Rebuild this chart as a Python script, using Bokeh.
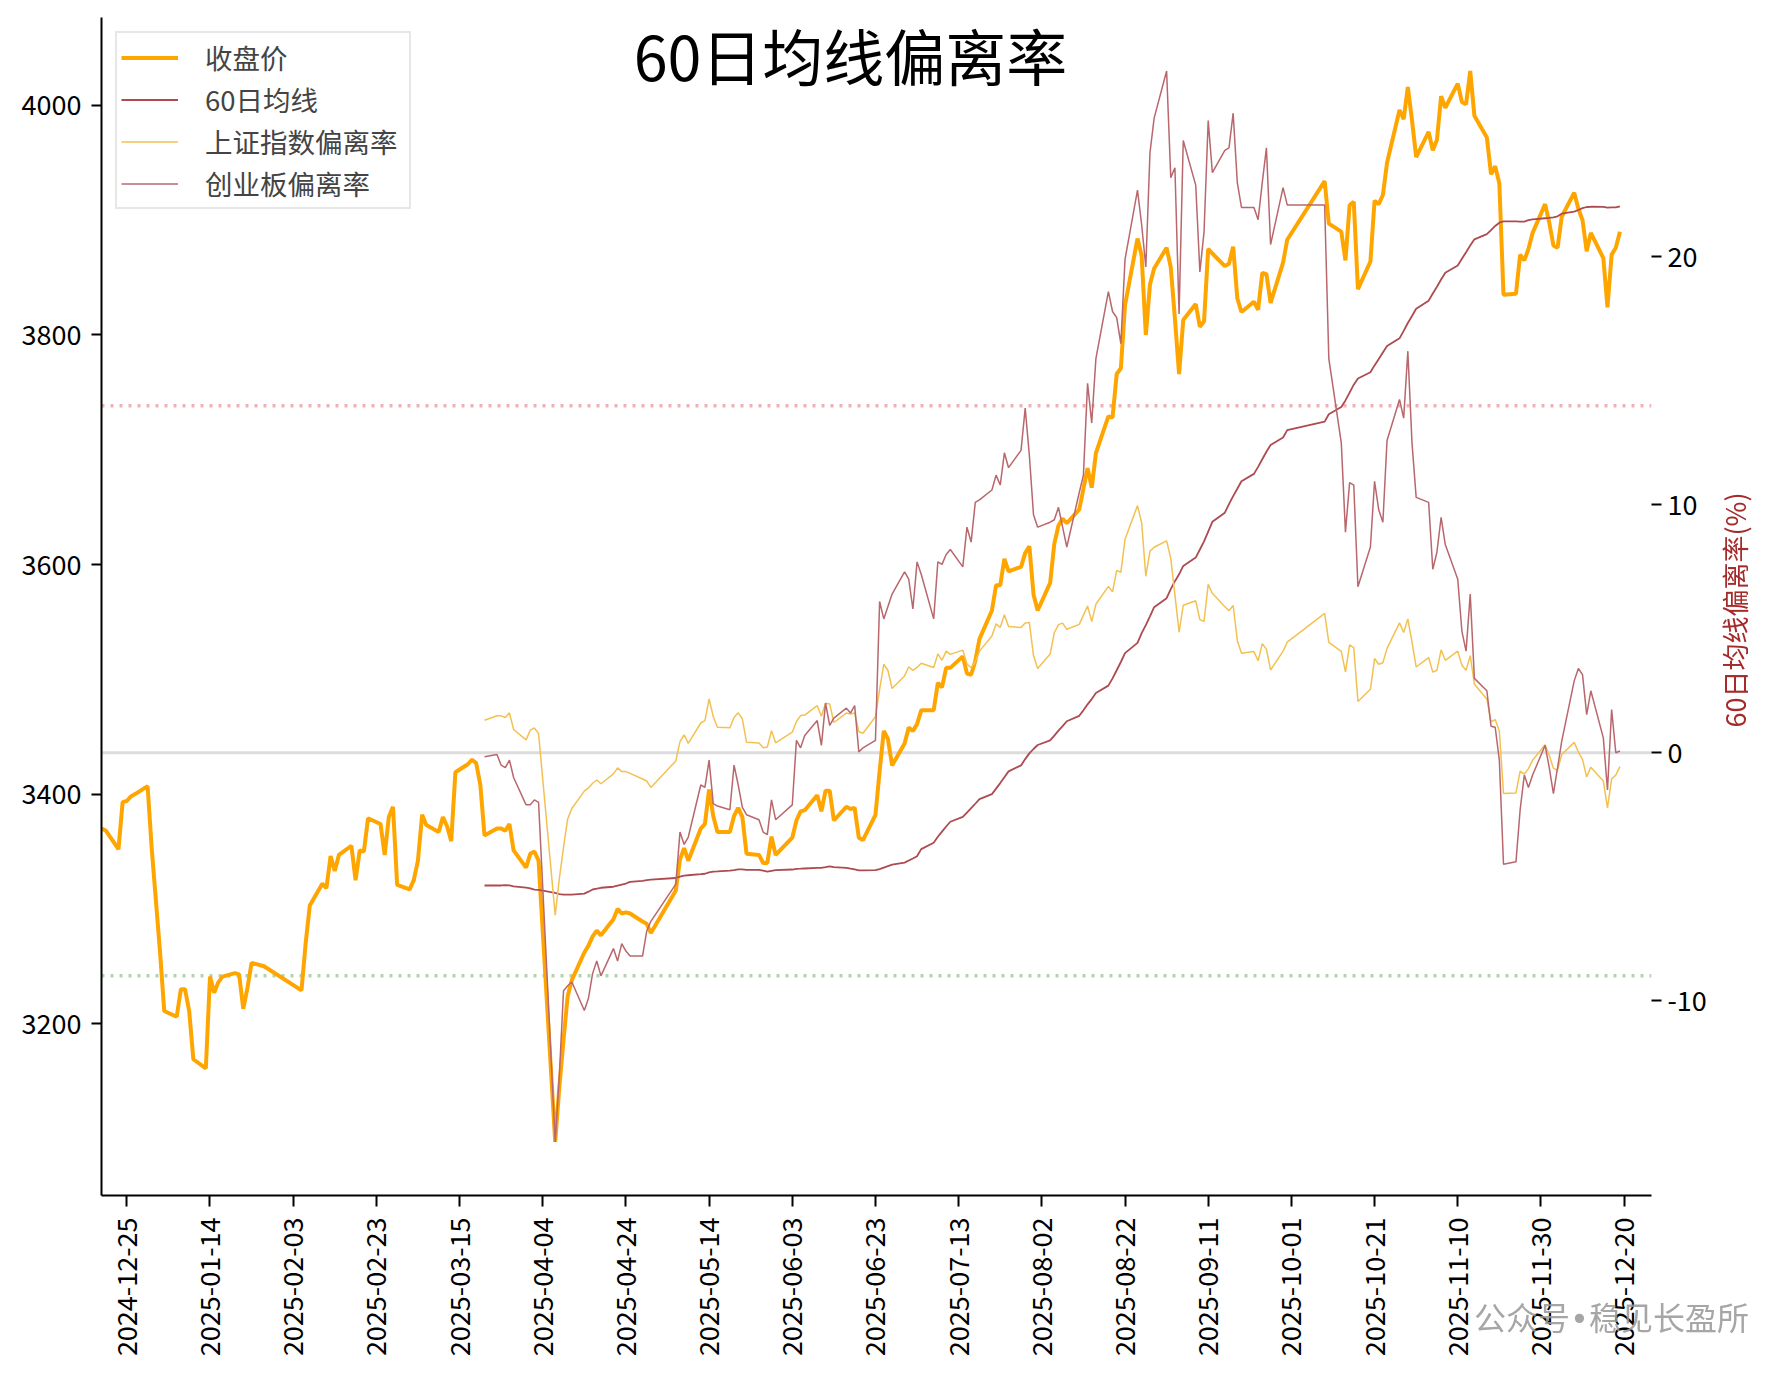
import math
from datetime import datetime
from bokeh.plotting import figure
from bokeh.layouts import column
from bokeh.models import (Range1d, LinearAxis, FixedTicker, DatetimeTickFormatter,
                          Span, Label, Legend, LegendItem, Div)
from bokeh.embed import file_html
from bokeh.resources import INLINE

FONT = "Noto Sans CJK SC"

# ---------------- data ----------------
trade_days = {
    (2024, 12): [19, 20, 23, 24, 25, 26, 27, 30, 31],
    (2025, 1): [2, 3, 6, 7, 8, 9, 10, 13, 14, 15, 16, 17, 20, 21, 22, 23, 24, 27],
    (2025, 2): [5, 6, 7, 10, 11, 12, 13, 14, 17, 18, 19, 20, 21, 24, 25, 26, 27, 28],
    (2025, 3): [3, 4, 5, 6, 7, 10, 11, 12, 13, 14, 17, 18, 19, 20, 21, 24, 25, 26, 27, 28, 31],
    (2025, 4): [1, 2, 3, 7, 8, 9, 10, 11, 14, 15, 16, 17, 18, 21, 22, 23, 24, 25, 28, 29, 30],
    (2025, 5): [6, 7, 8, 9, 12, 13, 14, 15, 16, 19, 20, 21, 22, 23, 26, 27, 28, 29, 30],
    (2025, 6): [3, 4, 5, 6, 9, 10, 11, 12, 13, 16, 17, 18, 19, 20, 23, 24, 25, 26, 27, 30],
    (2025, 7): [1, 2, 3, 4, 7, 8, 9, 10, 11, 14, 15, 16, 17, 18, 21, 22, 23, 24, 25, 28, 29, 30, 31],
    (2025, 8): [1, 4, 5, 6, 7, 8, 11, 12, 13, 14, 15, 18, 19, 20, 21, 22, 25, 26, 27, 28, 29],
    (2025, 9): [1, 2, 3, 4, 5, 8, 9, 10, 11, 12, 15, 16, 17, 18, 19, 22, 23, 24, 25, 26, 29, 30],
    (2025, 10): [9, 10, 13, 14, 15, 16, 17, 20, 21, 22, 23, 24, 27, 28, 29, 30, 31],
    (2025, 11): [3, 4, 5, 6, 7, 10, 11, 12, 13, 14, 17, 18, 19, 20, 21, 24, 25, 26, 27, 28],
    (2025, 12): [1, 2, 3, 4, 5, 8, 9, 10, 11, 12, 15, 16, 17, 18, 19],
}

close = [
    3370, 3368, 3352, 3393, 3394, 3398, 3400, 3407, 3352,
    3262, 3211, 3206, 3230, 3230, 3211, 3169, 3161, 3241, 3227, 3236, 3241, 3244, 3243, 3213, 3231, 3253, 3250,
    3229, 3270, 3303, 3322, 3318, 3346, 3333, 3347, 3355, 3325, 3351, 3350, 3379, 3374, 3347, 3380, 3389, 3321,
    3317, 3325, 3342, 3382, 3373, 3367, 3380, 3372, 3359, 3419, 3426, 3430, 3427, 3408, 3364, 3370, 3370, 3368, 3374, 3351, 3336,
    3348, 3350, 3342, 3097, 3145, 3186, 3224, 3238, 3262, 3268, 3276, 3281, 3277, 3291, 3300, 3296, 3297, 3296, 3289, 3287, 3279,
    3316, 3343, 3353, 3342, 3370, 3374, 3404, 3381, 3367, 3367, 3381, 3388, 3380, 3348, 3347, 3340, 3340, 3363, 3347,
    3362, 3377, 3385, 3386, 3399, 3385, 3403, 3403, 3377, 3389, 3387, 3388, 3362, 3360, 3382, 3420, 3455, 3448, 3425, 3444,
    3458, 3455, 3461, 3473, 3473, 3497, 3493, 3510, 3510, 3520, 3505, 3504, 3516, 3535, 3560, 3582, 3582, 3605, 3594, 3598, 3610, 3616, 3574,
    3560, 3584, 3618, 3634, 3640, 3636, 3648, 3666, 3684, 3667, 3697, 3729, 3728, 3766, 3771, 3826, 3884, 3869, 3800, 3844, 3858,
    3876, 3859, 3814, 3766, 3813, 3827, 3807, 3812, 3875, 3871, 3860, 3862, 3877, 3832, 3820, 3829, 3822, 3854, 3853, 3828, 3863, 3883,
    3934, 3897, 3890, 3865, 3913, 3916, 3840, 3864, 3917, 3914, 3922, 3950, 3996, 3988, 4016, 3987, 3955,
    3977, 3961, 3970, 4008, 3998, 4019, 4003, 4001, 4030, 3991, 3972, 3940, 3947, 3932, 3835, 3836, 3870, 3865, 3875, 3889,
    3914, 3898, 3878, 3876, 3903, 3924, 3910, 3900, 3873, 3889, 3867, 3824, 3870, 3876, 3890,
]

# series below start on 2025-03-21
ma60 = [
    3320.4, 3320.4, 3320.4, 3320.7, 3320.4, 3319.7, 3318.6,
    3317.8, 3316.8, 3316.6, 3313.9, 3312.8, 3312.5, 3312.4, 3312.5, 3313.3, 3315.0, 3316.9, 3317.6, 3318.4, 3319.3, 3320.3, 3321.2, 3322.1, 3323.5, 3324.4, 3325.0, 3325.5,
    3326.9, 3328.1, 3329.0, 3329.3, 3330.2, 3330.6, 3331.8, 3332.4, 3332.6, 3333.3, 3333.8, 3334.4, 3334.4, 3334.0, 3334.0, 3333.3, 3332.5, 3333.2, 3333.7,
    3334.3, 3334.9, 3335.0, 3335.2, 3335.7, 3335.8, 3336.3, 3337.1, 3336.4, 3335.7, 3335.0, 3334.4, 3333.6, 3333.5, 3333.7, 3334.6, 3336.0, 3337.3, 3338.5, 3340.3,
    3342.1, 3343.9, 3345.9, 3352.1, 3357.6, 3362.8, 3367.3, 3371.8, 3375.9, 3380.1, 3383.9, 3387.7, 3391.6, 3395.7, 3400.0, 3404.8, 3409.6, 3414.7, 3419.8, 3425.0, 3430.5, 3435.5, 3439.3,
    3442.8, 3446.8, 3451.0, 3455.3, 3459.2, 3463.5, 3468.2, 3473.1, 3478.2, 3482.8, 3488.1, 3494.5, 3500.8, 3507.9, 3515.1, 3522.8, 3531.8, 3540.2, 3547.3, 3554.9, 3562.8,
    3570.7, 3578.6, 3585.5, 3591.5, 3598.8, 3606.1, 3613.1, 3620.2, 3628.7, 3637.2, 3645.2, 3652.6, 3659.6, 3666.0, 3672.6, 3679.0, 3685.1, 3691.7, 3698.3, 3704.2, 3710.7, 3717.1,
    3724.5, 3730.9, 3737.2, 3743.0, 3749.8, 3756.7, 3762.1, 3767.5, 3773.5, 3779.0, 3784.7, 3790.4, 3797.1, 3803.6, 3810.4, 3816.6, 3822.9,
    3829.9, 3836.2, 3842.0, 3848.3, 3854.2, 3860.6, 3866.5, 3872.1, 3877.9, 3883.3, 3887.9, 3891.4, 3895.0, 3897.8, 3898.9, 3899.0, 3898.8, 3898.7, 3900.0, 3900.7,
    3901.7, 3902.0, 3902.4, 3903.4, 3905.7, 3907.5, 3908.9, 3910.5, 3911.5, 3911.7, 3911.6, 3911.0, 3911.2, 3911.2, 3912.1,
]

sse_dev = [
    1.31, 1.49, 1.49, 1.42, 1.61, 0.94, 0.52,
    0.91, 1.00, 0.77, -6.55, -5.07, -3.82, -2.67, -2.25, -1.55, -1.42, -1.23, -1.10, -1.25, -0.85, -0.61, -0.76, -0.76, -0.83, -1.06, -1.14, -1.40,
    -0.33, 0.45, 0.72, 0.38, 1.20, 1.30, 2.17, 1.46, 1.03, 1.01, 1.42, 1.61, 1.37, 0.42, 0.39, 0.20, 0.23, 0.89, 0.40,
    0.83, 1.26, 1.50, 1.52, 1.90, 1.47, 2.00, 1.97, 1.22, 1.60, 1.56, 1.61, 0.85, 0.79, 1.45, 2.56, 3.57, 3.32, 2.59, 3.10,
    3.47, 3.32, 3.44, 3.61, 3.44, 3.99, 3.73, 4.10, 3.97, 4.14, 3.58, 3.43, 3.67, 4.10, 4.71, 5.20, 5.06, 5.57, 5.09, 5.05, 5.23, 5.25, 3.92,
    3.40, 3.98, 4.84, 5.17, 5.23, 4.98, 5.18, 5.55, 5.92, 5.29, 5.99, 6.71, 6.49, 7.36, 7.28, 8.61, 9.97, 9.29, 7.12, 8.13, 8.29,
    8.55, 7.84, 6.37, 4.86, 5.95, 6.13, 5.37, 5.30, 6.79, 6.43, 5.89, 5.73, 5.94, 4.53, 4.01, 4.08, 3.71, 4.40, 4.18, 3.34, 4.10, 4.46,
    5.62, 4.45, 4.09, 3.26, 4.35, 4.24, 2.07, 2.56, 3.80, 3.57, 3.63, 4.21, 5.24, 4.85, 5.40, 4.46, 3.46,
    3.84, 3.25, 3.33, 4.15, 3.73, 4.10, 3.53, 3.33, 3.92, 2.77, 2.16, 1.25, 1.34, 0.88, -1.64, -1.62, -0.74, -0.86, -0.64, -0.30,
    0.32, -0.10, -0.63, -0.70, -0.07, 0.42, 0.03, -0.27, -0.98, -0.58, -1.14, -2.22, -1.05, -0.90, -0.56,
]

cyb_dev = [
    -0.16, -0.07, -0.5, -0.6, -0.3, -1.0, -2.1,
    -2.1, -1.9, -2.0, -15.7, -13.0, -9.6, -9.4, -9.25, -10.4, -9.9, -8.9, -8.4, -9.0, -7.9, -8.4, -7.7, -8.0, -8.2, -8.2, -7.2, -6.8,
    -5.3, -3.2, -3.7, -3.4, -1.3, -1.4, -0.3, -2.05, -2.15, -2.3, -0.5, -1.3, -2.2, -2.5, -2.7, -3.2, -3.3, -1.9, -2.7,
    -2.1, 0.5, 0.2, 0.7, 1.3, 0.3, 2.0, 1.1, 1.4, 1.8, 1.6, 1.9, 0.03, 0.2, 0.5, 6.1, 5.4, 5.9, 6.4, 7.3,
    7.0, 5.8, 7.7, 7.2, 5.4, 7.7, 7.6, 8.0, 8.2, 7.5, 9.1, 8.5, 10.1, 10.2, 10.6, 11.2, 10.8, 12.1, 11.5, 12.2, 13.9, 12.0, 9.6,
    9.1, 9.3, 9.4, 9.9, 9.1, 8.3, 10.5, 11.2, 14.9, 13.3, 15.9, 18.6, 17.8, 17.55, 16.5, 19.9, 22.7, 21.3, 19.6, 24.2, 25.6,
    27.5, 23.2, 23.6, 17.7, 24.7, 22.9, 19.4, 21.0, 25.5, 23.4, 24.3, 24.4, 25.8, 23.0, 22.0, 22.0, 21.5, 23.0, 24.4, 20.5, 22.8, 22.1,
    22.1, 15.9, 12.5, 8.9, 10.9, 10.8, 6.7, 8.3, 10.95, 9.8, 9.3, 12.6, 14.25, 13.5, 16.2, 12.5, 10.3,
    10.1, 7.4, 8.1, 9.5, 8.4, 7.0, 4.9, 4.1, 6.4, 3.0, 2.5, 1.07, 1.03, -0.3, -4.5, -4.4, -2.3, -0.9, -1.4, -0.9,
    0.3, -0.6, -1.65, -0.6, 0.47, 2.9, 3.4, 3.15, 1.54, 2.5, 0.6, -1.5, 1.74, 0.0, 0.07,
]

x_tick_labels = ["2024-12-25", "2025-01-14", "2025-02-03", "2025-02-23", "2025-03-15",
                 "2025-04-04", "2025-04-24", "2025-05-14", "2025-06-03", "2025-06-23",
                 "2025-07-13", "2025-08-02", "2025-08-22", "2025-09-11", "2025-10-01",
                 "2025-10-21", "2025-11-10", "2025-11-30", "2025-12-20"]
left_ticks = [3200, 3400, 3600, 3800, 4000]
right_ticks = [-10, 0, 10, 20]
upper_line = 14
lower_line = -9

# ---------------- build ----------------
dates = [datetime(y, m, d) for (y, m), days in trade_days.items() for d in days]
start = dates.index(datetime(2025, 3, 21))
dev_dates = dates[start:]

epoch = datetime(1970, 1, 1)
x_ticks_ms = [(datetime.strptime(s, "%Y-%m-%d") - epoch).total_seconds() * 1000 for s in x_tick_labels]

FRAME_L, FRAME_T, FRAME_W, FRAME_H = 101, 17, 1550, 1178
FIG_W, FIG_H = 1770, 1360

p = figure(width=FIG_W, height=FIG_H, x_axis_type="datetime",
           output_backend="svg", toolbar_location=None,
           x_range=Range1d(datetime(2024, 12, 18, 22), datetime(2025, 12, 26, 14)),
           y_range=Range1d(3050.3, 4076.6),
           min_border_left=FRAME_L, min_border_right=FIG_W - FRAME_L - FRAME_W,
           min_border_top=FRAME_T, min_border_bottom=FIG_H - FRAME_T - FRAME_H)
p.extra_y_ranges = {"dev": Range1d(-17.86, 29.66)}
p.xgrid.visible = False
p.ygrid.visible = False
p.outline_line_color = None
p.background_fill_color = "white"
p.border_fill_color = "white"

# reference lines (right axis)
p.add_layout(Span(location=0, dimension="width", y_range_name="dev",
                  line_color="#dcdcdc", line_width=3, level="underlay"))
p.add_layout(Span(location=upper_line, dimension="width", y_range_name="dev",
                  line_color="#f2b0b4", line_width=3.5, line_dash="3 6", level="underlay"))
p.add_layout(Span(location=lower_line, dimension="width", y_range_name="dev",
                  line_color="#aed6ae", line_width=3.5, line_dash="3 6", level="underlay"))

r_close = p.line(dates, close, line_color="#ffa500", line_width=4)
r_ma = p.line(dev_dates, ma60, line_color="#ad4b50", line_width=1.8)
r_sse = p.line(dev_dates, sse_dev, line_color="#f3c152", line_width=1.5, y_range_name="dev")
r_cyb = p.line(dev_dates, cyb_dev, line_color="#b8676d", line_width=1.5, y_range_name="dev")

# axes
xa = p.xaxis[0]
xa.ticker = FixedTicker(ticks=x_ticks_ms)
fmt = DatetimeTickFormatter(days="%Y-%m-%d", months="%Y-%m-%d", years="%Y-%m-%d")
try:
    fmt.strip_leading_zeros = False
except Exception:
    pass
xa.formatter = fmt
xa.major_label_orientation = math.pi / 2

ya = p.yaxis[0]
ya.ticker = FixedTicker(ticks=left_ticks)

ra = LinearAxis(y_range_name="dev", ticker=FixedTicker(ticks=right_ticks))
ra.major_label_overrides = {t: ("-" + str(-t) if t < 0 else str(t)) for t in right_ticks}
p.add_layout(ra, "right")

for ax in (xa, ya, ra):
    ax.major_label_text_font = FONT
    ax.major_label_text_font_size = "27px"
    ax.major_label_text_color = "black"
    ax.major_tick_line_color = "black"
    ax.major_tick_line_width = 2
    ax.major_tick_out = 10
    ax.major_tick_in = 0
    ax.minor_tick_line_color = None
    ax.axis_line_color = "black"
    ax.axis_line_width = 2
xa.major_tick_out = 11
xa.major_label_standoff = 11
ya.major_label_standoff = 10
ra.major_label_standoff = 6
ra.axis_line_color = None

# legend
legend = Legend(items=[
    LegendItem(label="收盘价", renderers=[r_close]),
    LegendItem(label="60日均线", renderers=[r_ma]),
    LegendItem(label="上证指数偏离率", renderers=[r_sse]),
    LegendItem(label="创业板偏离率", renderers=[r_cyb]),
], location="top_left")
legend.margin = 14
legend.padding = 4
legend.spacing = 2
legend.glyph_width = 57
legend.glyph_height = 29
legend.label_height = 29
legend.label_width = 200
legend.label_standoff = 27
legend.label_text_font = FONT
legend.label_text_font_size = "27.5px"
legend.border_line_color = "#d0d0d0"
legend.border_line_width = 2
legend.background_fill_color = "white"
legend.background_fill_alpha = 0.8
p.add_layout(legend)

# title inside the frame
p.add_layout(Label(x=749, y=1141, x_units="screen", y_units="screen",
                   text="60日均线偏离率", text_font=FONT, text_font_size="61px",
                   text_align="center", text_baseline="middle", text_color="black"))

# right-axis title and watermark sit outside the plot frame -> page-level text
right_title = "60日均线偏离率(%)"
watermark = "公众号•稳见长盈所"
wm_head, wm_tail = watermark.split("•")
overlay_html = (
    '<div style="position:fixed; left:1585px; top:594px; width:300px; height:32px; '
    'line-height:32px; text-align:center; transform:rotate(-90deg); '
    'transform-origin:150px 16px; font-size:27px; color:#a52a2a; white-space:nowrap; '
    f"font-family:'Noto Sans CJK SC';\">{right_title}</div>"
    '<div style="position:fixed; left:1474px; top:1300px; font-size:32px; '
    'line-height:32px; white-space:nowrap; color:rgba(150,150,150,0.85); '
    f"font-family:'Noto Sans CJK SC'; z-index:10;\">{wm_head}"
    f"<span style=\"font-family:'DejaVu Sans';\">•</span>{wm_tail}</div>"
)
overlay = Div(text=overlay_html, width=10, height=5, margin=0)

layout = column(p, overlay)
open("out.html", "w").write(file_html(layout, INLINE))
